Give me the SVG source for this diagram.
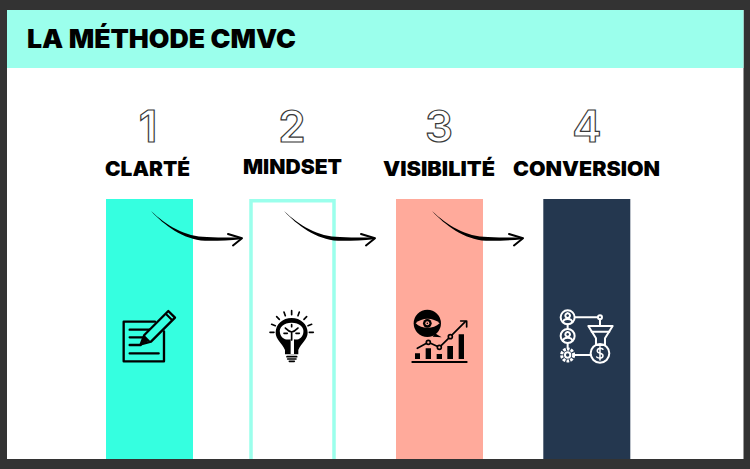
<svg xmlns="http://www.w3.org/2000/svg" width="750" height="469" viewBox="0 0 750 469">
<style>
.h{font-family:Inter,"Liberation Sans",sans-serif;font-weight:900;fill:#000;font-size:20px;text-anchor:start}
.n{font-family:Inter,"Liberation Sans",sans-serif;font-weight:600;font-size:44px;fill:#fff;stroke:#3a3a3a;stroke-width:1.200;text-anchor:middle}
.k{fill:none;stroke:#000;stroke-linecap:round;stroke-linejoin:round}
.w{fill:none;stroke:#fff;stroke-linecap:round;stroke-linejoin:round;stroke-width:6}
</style>
<defs>
<g id="arrow">
<path d="M0 0C15 14 34 26 56 26C68 26.600 80 26.500 90 26.400L90 28.200C78 29.400 66 30 54 29.800C32 28.600 13 14 0 0Z" fill="#000"/>
<path d="M77 23L91 27.300L82 34.500" fill="none" stroke="#000" stroke-width="2" stroke-linecap="round" stroke-linejoin="round"/>
</g>
</defs>
<rect width="750" height="469" fill="#333"/>
<rect x="7" y="10" width="736.500" height="449" fill="#fff"/>
<g id="header">
<rect x="7" y="10" width="736.500" height="58" fill="#9bffec"/>
<text class="h" x="27" y="48" style="font-size:25.500px" textLength="269" lengthAdjust="spacingAndGlyphs">LA MÉTHODE CMVC</text>
</g>
<g id="step1">
<rect x="106" y="199" width="87" height="260" fill="#35ffe0"/>
<text class="n" x="148" y="142">1</text>
<text class="h" x="105" y="175.500" textLength="85" lengthAdjust="spacingAndGlyphs">CLARTÉ</text>
<g transform="translate(100 290) scale(.3333)">
<path class="k" stroke-width="7" d="M165 95H71V214H192V124"/>
<path class="k" stroke-width="7" d="M89 119H150M89 142H135M89 165H122M89 190H176"/>
<path d="M122 163L133 135L205 63L225 83L153 155Z" fill="#35ffe0" stroke="#000" stroke-width="7" stroke-linejoin="round"/>
<path d="M122 163L133 135L150 152Z" fill="#000"/>
<path class="k" stroke-width="6" d="M198 72L216 90"/>
</g>
</g>
<g id="step2">
<path d="M251 459V200.800H334V459" fill="#fff" stroke="#9bffec" stroke-width="3.500"/>
<text class="n" x="292" y="142">2</text>
<text class="h" x="243" y="174" textLength="99" lengthAdjust="spacingAndGlyphs">MINDSET</text>
<g transform="translate(100 290) scale(.3333)">
<path d="M575 84C548 84 527 103 527 128C527 148 546 158 555 180V193H595V180C604 158 623 148 623 128C623 103 602 84 575 84Z" fill="#000"/>
<path d="M572 192V148C555 152 542 142 540 128C536 112 552 98 575 98C598 98 614 112 610 128C608 142 595 152 582 148V192Z" fill="#fff"/>
<path class="k" stroke-width="5" d="M575 150V126M575 126C565 124 560 118 556 114M575 126C585 124 590 118 594 114M552 130H562M598 130H588M575 110V104"/>
<path class="k" stroke-width="5" d="M561 200H590M563 207H588M568 214H583"/>
<path class="k" stroke-width="5" d="M575 62V74M552 66L556 77M598 66L594 77M530 80L538 88M620 80L612 88M515 103L526 107M635 103L624 107M510 127H522M640 127H628"/>
</g>
</g>
<g id="step3">
<rect x="396" y="199" width="87" height="260" fill="#ffaa9b"/>
<text class="n" x="439" y="142">3</text>
<text class="h" x="383" y="175.500" textLength="112" lengthAdjust="spacingAndGlyphs">VISIBILITÉ</text>
<g transform="translate(390 290) scale(.3333)">
<circle cx="112" cy="100" r="41" fill="#000"/>
<path d="M135 130L155 142L128 140Z" fill="#000"/>
<path d="M77 100C95 82 130 82 149 100C130 118 95 118 77 100Z" fill="#ffaa9b"/>
<circle cx="112" cy="100" r="13" fill="#000"/>
<circle cx="112" cy="100" r="6" fill="#ffaa9b"/>
<circle cx="112" cy="100" r="2.500" fill="#000"/>
<path d="M75 190H90V207H75ZM107 175H123V207H107ZM140 192H156V207H140ZM172 168H189V207H172ZM206 133H222V207H206Z" fill="#000"/>
<path class="k" stroke-width="6" d="M67 216H230"/>
<path class="k" stroke-width="5" d="M82 175L115 157L148 172L181 140L226 95"/>
<path class="k" stroke-width="5" d="M212 93H230V111"/>
<circle cx="115" cy="157" r="6" fill="#ffaa9b" stroke="#000" stroke-width="5"/>
<circle cx="148" cy="172" r="6" fill="#ffaa9b" stroke="#000" stroke-width="5"/>
<circle cx="181" cy="140" r="6" fill="#ffaa9b" stroke="#000" stroke-width="5"/>
</g>
</g>
<g id="step4">
<rect x="543.300" y="199" width="87" height="260" fill="#24374f"/>
<text class="n" x="587" y="142">4</text>
<text class="h" x="513" y="175.500" textLength="147" lengthAdjust="spacingAndGlyphs">CONVERSION</text>
<g transform="translate(390 290) scale(.3333)">
<circle class="w" cx="533" cy="82" r="21"/>
<circle class="w" cx="533" cy="138" r="21"/>
<circle class="w" cx="533" cy="195" r="18" stroke-dasharray="8 3.500" style="stroke-linecap:butt;stroke-width:9"/>
<circle class="w" cx="533" cy="195" r="8"/>
<path class="w" d="M533 103V117M533 159V175"/>
<path class="w" d="M533 70a7 7 0 1 0 .1 0M519 96C521 84 545 84 547 96M533 126a7 7 0 1 0 .1 0M519 152C521 140 545 140 547 152"/>
<path class="w" d="M555 82H624M630 88V104M552 195H602"/>
<circle class="w" cx="630" cy="82" r="6"/>
<path class="w" d="M595 108H668L645 145V165H618V145Z"/>
<path class="w" d="M605 125H658"/>
<circle class="w" cx="630" cy="190" r="28"/>
<path class="w" style="stroke-width:4.500" d="M639 178C632 172 621 176 622 184C623 192 639 188 639 197C639 205 627 206 620 201M630 170V210"/>
</g>
</g>
<g id="connectors">
<use href="#arrow" transform="translate(151 211)"/>
<use href="#arrow" transform="translate(284 211)"/>
<use href="#arrow" transform="translate(432 211)"/>
</g>
</svg>
